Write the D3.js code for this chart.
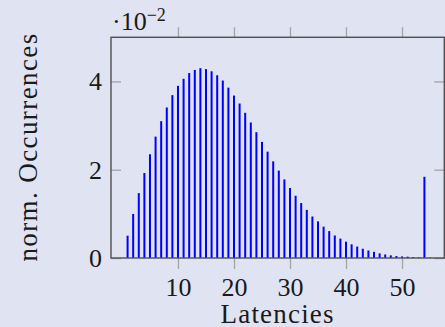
<!DOCTYPE html>
<html>
<head>
<meta charset="utf-8">
<script src="https://cdn.jsdelivr.net/npm/d3@7"></script>
<style>
  html, body { margin: 0; padding: 0; background: #e0e3f1; }
  svg { display: block; }
  text { font-family: "Liberation Serif", "Times New Roman", serif; fill: #1a1a1a; }
</style>
</head>
<body>
<svg id="chart" width="445" height="327"></svg>
<script>
// Latency bins (1..55) and their normalized occurrence frequency
const latencies = d3.range(1, 56);
const occurrences = [
  0.00505, 0.00997, 0.0147, 0.01925, 0.0235, 0.0275, 0.0310, 0.0341, 0.0369, 0.0390,
  0.0406, 0.0419, 0.0426, 0.0430, 0.0428, 0.0423, 0.0414, 0.0402, 0.0386, 0.0368,
  0.0350, 0.0329, 0.0307, 0.0285, 0.0263, 0.0241, 0.0219, 0.0198, 0.0178, 0.01585,
  0.0141, 0.01245, 0.0109, 0.0094, 0.0083, 0.0071, 0.0061, 0.0051, 0.0044, 0.0037,
  0.0031, 0.0026, 0.0021, 0.0017, 0.0014, 0.00105, 0.0008, 0.0006, 0.00045, 0.00035,
  0.0003, 0.0002, 0.00015, 0.0184, 0.0001
];
const xTicks = [10, 20, 30, 40, 50];
const yTicks = [0, 0.02, 0.04];
const yTickScale = 100; // labels shown in units of 10^-2

const svg = d3.select("#chart");
const box = { left: 111, right: 444.3, top: 37.3, bottom: 258 };

const x = d3.scaleLinear().domain([-1.96, 57.55]).range([box.left, box.right]);
const y = d3.scaleLinear().domain([0, 0.05]).range([box.bottom, box.top]);

const tickColor = "#a3a3a3";
const frameColor = "#505050";

// bars (thin comb-style bars)
svg.append("g").selectAll("rect")
  .data(latencies)
  .join("rect")
  .attr("x", (d) => x(d) - 1)
  .attr("width", 2)
  .attr("y", (d, i) => y(occurrences[i]))
  .attr("height", (d, i) => y(0) - y(occurrences[i]))
  .attr("fill", "#0000ff");

// bottom axis: ticks outside, labels below
const xAxis = d3.axisBottom(x).tickValues(xTicks).tickSize(11).tickSizeOuter(0).tickPadding(9);
const gx = svg.append("g").attr("transform", `translate(0,${box.bottom})`).call(xAxis);
gx.select(".domain").remove();
gx.selectAll(".tick line").attr("stroke", tickColor).attr("stroke-width", 1.3);
gx.selectAll(".tick text").attr("font-size", 26).attr("fill", "#1a1a1a")
  .style("font-family", '"Liberation Serif", serif');

// top axis: ticks outside, no labels
const gxTop = svg.append("g").attr("transform", `translate(0,${box.top})`)
  .call(d3.axisTop(x).tickValues(xTicks).tickSize(10).tickSizeOuter(0).tickFormat(""));
gxTop.select(".domain").remove();
gxTop.selectAll(".tick line").attr("stroke", tickColor).attr("stroke-width", 1.3);

// left axis: ticks inside
const gy = svg.append("g").attr("transform", `translate(${box.left},0)`)
  .call(d3.axisLeft(y).tickValues(yTicks).tickSize(-10).tickSizeOuter(0).tickPadding(9)
    .tickFormat((d) => d3.format("d")(d * yTickScale)));
gy.select(".domain").remove();
gy.selectAll(".tick line").attr("stroke", tickColor).attr("stroke-width", 1.3);
gy.selectAll(".tick text").attr("font-size", 26).attr("fill", "#1a1a1a").attr("x", -9)
  .style("font-family", '"Liberation Serif", serif');

// right axis: ticks inside
const gyR = svg.append("g").attr("transform", `translate(${box.right},0)`)
  .call(d3.axisRight(y).tickValues(yTicks).tickSize(-10).tickSizeOuter(0).tickFormat(""));
gyR.select(".domain").remove();
gyR.selectAll(".tick line").attr("stroke", tickColor).attr("stroke-width", 1.3);

// frame
svg.append("rect")
  .attr("x", box.left).attr("y", box.top)
  .attr("width", box.right - box.left).attr("height", box.bottom - box.top)
  .attr("fill", "none").attr("stroke", frameColor).attr("stroke-width", 1.4);

// scale marker ·10^-2
const scaleLabel = svg.append("text").attr("x", 112).attr("y", 29.5).attr("font-size", 26);
scaleLabel.append("tspan").text("·10");
scaleLabel.append("tspan").attr("dy", -9).attr("font-size", 18).text("−2");

// axis titles
svg.append("text")
  .attr("x", (box.left + box.right) / 2).attr("y", 322.5)
  .attr("text-anchor", "middle").attr("font-size", 27).attr("letter-spacing", 1.2)
  .text("Latencies");

svg.append("text")
  .attr("transform", "translate(37,147) rotate(-90)")
  .attr("text-anchor", "middle").attr("font-size", 27).attr("letter-spacing", 1.4)
  .text("norm. Occurrences");
</script>
</body>
</html>
